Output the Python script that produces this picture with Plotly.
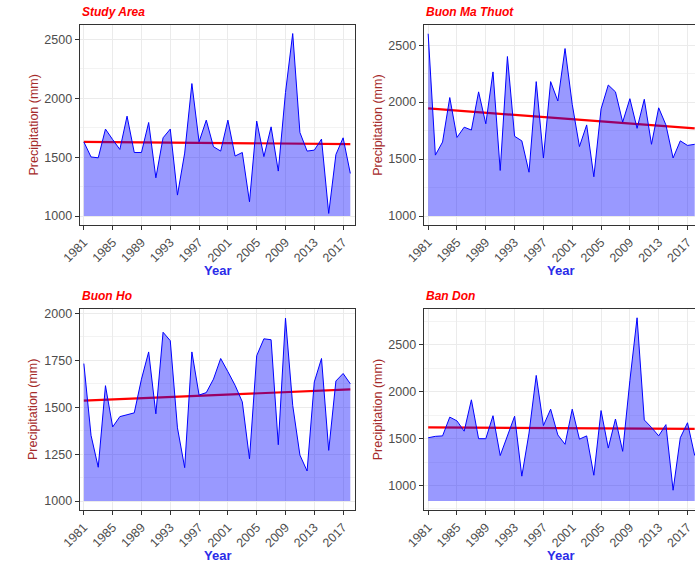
import plotly.graph_objects as go

years = list(range(1981, 2019))
tick_years = [1981, 1985, 1989, 1993, 1997, 2001, 2005, 2009, 2013, 2017]

panel_names = ["Study Area", "Buon Ma Thuot", "Buon Ho", "Ban Don"]

study_area = [1630, 1502, 1495, 1739, 1650, 1566, 1849, 1540, 1540, 1795,
              1325, 1665, 1739, 1178, 1535, 2126, 1631, 1815, 1589, 1552,
              1815, 1510, 1540, 1121, 1807, 1505, 1758, 1382, 2050, 2551,
              1710, 1552, 1560, 1654, 1022, 1523, 1665, 1362]
buon_ma_thuot = [2600, 1535, 1650, 2040, 1690, 1780, 1755, 2090, 1810, 2265,
                 1400, 2400, 1700, 1660, 1385, 2180, 1510, 2180, 2010, 2470,
                 1980, 1610, 1800, 1345, 1940, 2150, 2090, 1825, 2030, 1770,
                 2025, 1630, 1950, 1800, 1510, 1660, 1620, 1630]
buon_ho = [1733, 1350, 1180, 1615, 1395, 1450, 1460, 1470, 1650, 1795,
           1465, 1900, 1855, 1390, 1178, 1795, 1565, 1578, 1650, 1760,
           1690, 1617, 1529, 1225, 1775, 1865, 1860, 1300, 1975, 1510,
           1245, 1160, 1635, 1760, 1270, 1640, 1680, 1625]
ban_don = [1510, 1525, 1530, 1730, 1690, 1580, 1915, 1500, 1500, 1745,
           1320, 1540, 1740, 1100, 1560, 2175, 1640, 1815, 1540, 1440,
           1815, 1495, 1530, 1110, 1800, 1400, 1710, 1365, 2120, 2790,
           1700, 1620, 1530, 1650, 950, 1510, 1670, 1320]
series = [study_area, buon_ma_thuot, buon_ho, ban_don]

# area baseline and linear-trend end values
baselines = [1000, 1000, 1000, 835]
trend_start = [1630, 1945, 1535, 1620]
trend_end = [1612, 1769, 1595, 1605]
y_ranges = [[922, 2627], [920, 2680], [951, 2026], [737, 2888]]
y_ticks = [[1000, 1500, 2000, 2500], [1000, 1500, 2000, 2500],
           [1000, 1250, 1500, 1750, 2000], [1000, 1500, 2000, 2500]]
y_minor = [250, 250, 125, 250]

W, H = 695, 565
# panel boxes in pixels: (left, right, top, bottom)
boxes = [(62.3, 345, 22.7, 224), (416, 695, 22.7, 224),
         (62.3, 345, 307.7, 510), (416, 695, 307.7, 510)]
x_ranges = [[1980.41, 2018.59], [1980.37, 2018.04],
            [1980.41, 2018.59], [1980.37, 2018.04]]

FONT = "Liberation Sans, Arial, sans-serif"
fig = go.Figure()
layout = dict(width=W, height=H, margin=dict(l=0, r=0, t=0, b=0),
              plot_bgcolor="white", paper_bgcolor="white",
              showlegend=False, font=dict(family=FONT))
annotations = []
shapes = []

for i in range(4):
    xa = "x" if i == 0 else f"x{i+1}"
    ya = "y" if i == 0 else f"y{i+1}"
    l, r, t, b = boxes[i]
    vals = series[i]
    # trend line: drawn between grid and traces, so the translucent area covers it
    shapes.append(dict(type="line", xref=xa, yref=ya,
                       x0=years[0], x1=years[-1], y0=trend_start[i], y1=trend_end[i],
                       line=dict(color="#FF0000", width=2.2), layer="between"))
    # translucent area between baseline and the series
    poly_x = years + years[::-1]
    poly_y = vals + [baselines[i]] * len(years)
    fig.add_trace(go.Scatter(x=poly_x, y=poly_y, mode="lines", fill="toself",
                             fillcolor="rgba(0,0,255,0.4)",
                             line=dict(width=0, color="rgba(0,0,0,0)"),
                             xaxis=xa, yaxis=ya, hoverinfo="skip"))
    fig.add_trace(go.Scatter(x=years, y=vals, mode="lines",
                             line=dict(color="#0000FF", width=1),
                             xaxis=xa, yaxis=ya))
    right_panel = i in (1, 3)
    xkey = "xaxis" if i == 0 else f"xaxis{i+1}"
    ykey = "yaxis" if i == 0 else f"yaxis{i+1}"
    layout[xkey] = dict(domain=[l / W, r / W], range=x_ranges[i], anchor=ya,
                        tickvals=tick_years, tickangle=-45, ticks="outside",
                        ticklen=4, tickcolor="#333333", showline=True,
                        linecolor="#333333", linewidth=1, mirror=True,
                        showgrid=True, gridcolor="#EBEBEB", zeroline=False,
                        tickfont=dict(size=12.5, color="#4D4D4D", family=FONT))
    layout[ykey] = dict(domain=[1 - b / H, 1 - t / H], range=y_ranges[i], anchor=xa,
                        tickvals=y_ticks[i], ticks="outside", ticklen=4,
                        tickcolor="#333333", showline=True, linecolor="#333333",
                        linewidth=1, mirror=not right_panel,
                        showgrid=True, gridcolor="#EBEBEB", zeroline=False,
                        minor=dict(dtick=y_minor[i], tick0=1000, showgrid=True,
                                   gridcolor="#F3F3F3", ticks=""),
                        tickfont=dict(size=12.5, color="#4D4D4D", family=FONT))
    # panel title
    annotations.append(dict(text=f"<b><i>{panel_names[i]}</i></b>", x=l / W + 0.0005,
                            y=1 - (t - 12.5) / H, xref="paper", yref="paper",
                            xanchor="left", yanchor="middle", showarrow=False,
                            font=dict(size=12, color="#FF0000", family=FONT)))
    # axis titles
    ytitle_x = 15 if not right_panel else 369
    annotations.append(dict(text="Precipitation (mm)", x=ytitle_x / W,
                            y=1 - ((t + b) / 2) / H, xref="paper", yref="paper",
                            xanchor="center", yanchor="middle", textangle=-90,
                            showarrow=False,
                            font=dict(size=12.5, color="#A52A2A", family=FONT)))
    xcenter = (l + r) / 2 if not right_panel else 557
    annotations.append(dict(text="<b>Year</b>", x=xcenter / W,
                            y=1 - (b + 45) / H, xref="paper", yref="paper",
                            xanchor="center", yanchor="middle", showarrow=False,
                            font=dict(size=13, color="#2B2BE8", family=FONT)))

layout["annotations"] = annotations
layout["shapes"] = shapes
fig.update_layout(**layout)
fig.write_html("out.html")
